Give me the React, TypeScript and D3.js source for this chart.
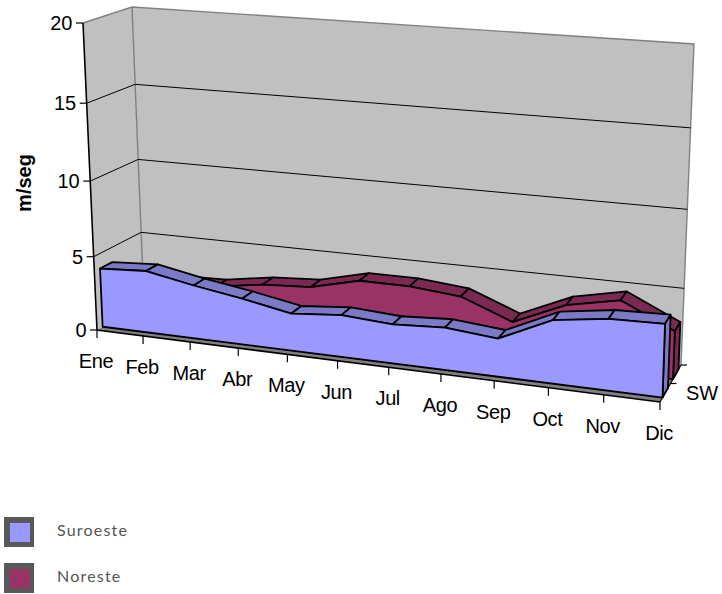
import React from "react";
import * as d3 from "d3";

const months = ["Ene", "Feb", "Mar", "Abr", "May", "Jun", "Jul", "Ago", "Sep", "Oct", "Nov", "Dic"];
const suroeste = [4.0, 4.2, 3.6, 3.1, 2.5, 2.8, 2.6, 2.8, 2.5, 4.1, 4.6, 4.7];
const noreste = [2.3, 2.5, 2.6, 3.1, 3.3, 4.1, 4.1, 3.8, 2.5, 4.0, 4.7, 3.1];
const valueTicks = [0, 5, 10, 15, 20];

// Box corners of the 3D plot in screen space
const floorFL = [97, 330], floorFR = [660, 402], floorBL = [144, 303], floorBR = [681, 365];
const topFL = [83, 23], topFR = [671, 72], topBL = [132, 7], topBR = [694, 44];

const monthScale = d3.scalePoint<string>().domain(months).range([0, 1]);
const valueScale = d3.scaleLinear().domain([0, 20]).range([0, 1]);

const mix = (a: number[], b: number[], t: number) => [a[0] + (b[0] - a[0]) * t, a[1] + (b[1] - a[1]) * t];
const warpX = (u: number) => 0.89 * u + 0.11 * u * u;
const warpH = (h: number) => 0.94 * h + 0.06 * h * h;

// Maps (position along months, value, depth) onto the screen with a bilinear box
function project(u: number, value: number, depth: number): [number, number] {
  const uu = warpX(u);
  const bottom = mix(mix(floorFL, floorFR, uu), mix(floorBL, floorBR, uu), depth);
  const top = mix(mix(topFL, topFR, uu), mix(topBL, topBR, uu), depth);
  const p = mix(bottom, top, warpH(valueScale(value)));
  return [p[0], p[1]];
}
const at = (m: string, value: number, depth: number) => project(monthScale(m) as number, value, depth);
const poly = d3.line<[number, number]>();

function Ribbon({ values, near, far, face, band }: { values: number[]; near: number; far: number; face: string; band: string }) {
  const last = months.length - 1;
  const front: [number, number][] = months.map((m, i) => at(m, values[i], near));
  const outline: [number, number][] = [at(months[0], 0, near), ...front, at(months[last], 0, near)];
  const side: [number, number][] = [at(months[last], 0, near), front[last], at(months[last], values[last], far), at(months[last], 0, far)];
  return (
    <g stroke="#000" strokeWidth={1.8} strokeLinejoin="round">
      {months.slice(0, -1).map((m, i) => (
        <path
          key={m}
          fill={band}
          d={poly([front[i], front[i + 1], at(months[i + 1], values[i + 1], far), at(m, values[i], far)]) + "Z"}
        />
      ))}
      <path fill={band} d={poly(side) + "Z"} />
      <path fill={face} d={poly(outline) + "Z"} />
    </g>
  );
}

export default function App() {
  const wall = (a: [number, number], b: [number, number], c: [number, number], d: [number, number]) => poly([a, b, c, d]) + "Z";
  const corner = at(months[11], 0, 0);
  return (
    <svg width={722} height={594} style={{ position: "absolute", left: 0, top: 0 }} fontFamily="'Liberation Sans', Arial, sans-serif">
      <rect width={722} height={594} fill="#fff" />
      {/* Walls and floor */}
      <path d={wall(at(months[0], 0, 0), at(months[0], 20, 0), at(months[0], 20, 1), at(months[0], 0, 1))} fill="#c0c0c0" />
      <path d={wall(at(months[0], 0, 1), at(months[0], 20, 1), at(months[11], 20, 1), at(months[11], 0, 1))} fill="#c0c0c0" />
      <path d={wall(at(months[0], 0, 0), at(months[11], 0, 0), at(months[11], 0, 1), at(months[0], 0, 1))} fill="#808080" />
      <g fill="none" stroke="#808080" strokeWidth={1.4}>
        <path d={poly([at(months[0], 20, 0), at(months[0], 20, 1), at(months[11], 20, 1), at(months[11], 0, 1)])!} />
        <path d={poly([at(months[0], 20, 1), at(months[0], 0, 1)])!} />
      </g>
      {/* Gridlines across both walls */}
      {valueTicks.filter((v) => v > 0 && v < 20).map((v) => (
        <path key={v} fill="none" stroke="#000" strokeWidth={1}
          d={poly([at(months[0], v, 0), at(months[0], v, 1), at(months[11], v, 1)])!} />
      ))}
      {/* Series, back to front */}
      <Ribbon values={noreste} near={0.62} far={0.88} face="#993366" band="#7a2952" />
      <Ribbon values={suroeste} near={0.12} far={0.38} face="#9999ff" band="#7a7ac7" />
      {/* Axes */}
      <g fill="none" stroke="#000" strokeWidth={1.2}>
        <path d={poly([at(months[0], 20, 0), at(months[0], 0, 0), corner])!} strokeWidth={1.6} />
        <path d={poly([corner, at(months[11], 0, 1)])!} />
        {valueTicks.map((v) => {
          const p = at(months[0], v, 0);
          return <path key={v} d={`M${p[0] - 7},${p[1]}H${p[0]}`} />;
        })}
        {months.map((m) => {
          const p = at(m, 0, 0);
          return <path key={m} d={`M${p[0]},${p[1]}v8`} />;
        })}
        {[0.5, 1].map((d) => {
          const p = at(months[11], 0, d);
          return <path key={d} d={`M${p[0]},${p[1]}h6`} />;
        })}
      </g>
      <g fontSize={20} fill="#000">
        {valueTicks.map((v) => {
          const p = at(months[0], v, 0);
          return <text key={v} x={p[0] - 10.5} y={p[1] + 7} textAnchor="end">{v}</text>;
        })}
        {months.map((m) => {
          const p = at(m, 0, 0);
          return <text key={m} x={p[0] - 1} y={p[1] + 38} textAnchor="middle" letterSpacing={-0.4}>{m}</text>;
        })}
        <text x={686} y={400}>SW</text>
      </g>
      <text transform="translate(31,183) rotate(-90)" textAnchor="middle" fontSize={20} fontWeight="bold">m/seg</text>
      {/* Legend */}
      {[["Suroeste", "#9999ff", 517], ["Noreste", "#993366", 563]].map(([name, color, y]) => (
        <g key={name as string}>
          <rect x={4} y={y as number} width={30} height={30} fill="#595959" />
          <rect x={10} y={(y as number) + 6} width={20} height={19} fill={color as string} />
          <text x={57} y={(y as number) + 19} fontFamily="Lato, sans-serif" fontSize={16} letterSpacing={1.2} fill="#555">{name}</text>
        </g>
      ))}
    </svg>
  );
}
